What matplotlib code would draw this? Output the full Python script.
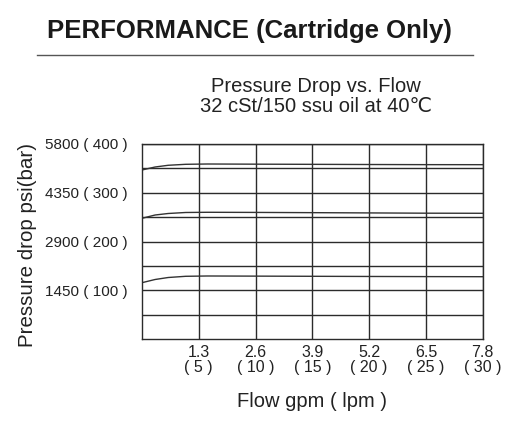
import numpy as np
import matplotlib.pyplot as plt
from matplotlib.lines import Line2D

plt.rcParams['font.family'] = ['Liberation Sans', 'DejaVu Sans']

# Flow (gpm) sample points along each curve
flow = [0, 0.3, 0.6, 1.0, 1.5, 2.6, 3.9, 5.2, 6.5, 7.8]

# Pressure drop (psi)
curve_high = [5027, 5116, 5167, 5196, 5205, 5200, 5195, 5190, 5186, 5185]
curve_mid = [3590, 3688, 3733, 3763, 3769, 3765, 3758, 3750, 3742, 3739]
curve_low = [1675, 1770, 1829, 1865, 1874, 1870, 1865, 1860, 1856, 1853]

# Axis ticks and labels
x_ticks = [1.3, 2.6, 3.9, 5.2, 6.5, 7.8]
x_labels = ['1.3\n( 5 )', '2.6\n( 10 )', '3.9\n( 15 )', '5.2\n( 20 )', '6.5\n( 25 )', '7.8\n( 30 )']
y_ticks = [1450, 2900, 4350, 5800]
y_labels = ['1450 ( 100 )', '2900 ( 200 )', '4350 ( 300 )', '5800 ( 400 )']
y_grid = [725, 1450, 2175, 2900, 3625, 4350, 5075, 5800]

fig = plt.figure(figsize=(5.12, 4.3), dpi=100)
ax = fig.add_axes([142 / 512, 91 / 430, 340.7 / 512, 195 / 430])

ax.set_xlim(0, 7.8)
ax.set_ylim(0, 5800)

line_col = '#2b2b2b'
for y in y_grid:
    ax.axhline(y, color=line_col, lw=1.0, zorder=1)
for x in x_ticks:
    ax.axvline(x, color=line_col, lw=1.0, zorder=1)

for c in (curve_high, curve_mid, curve_low):
    ax.plot(flow, c, color='#333333', lw=1.0, zorder=2)

for s in ax.spines.values():
    s.set_color(line_col)
    s.set_linewidth(1.0)

ax.set_xticks(x_ticks)
ax.set_xticklabels(x_labels, fontsize=11.5, linespacing=1.05)
ax.set_yticks(y_ticks)
ax.set_yticklabels(y_labels, fontsize=11)
ax.tick_params(length=0, colors='#222222')
ax.tick_params(axis='y', pad=10)
ax.tick_params(axis='x', pad=4)

ax.set_xlabel('Flow gpm ( lpm )', fontsize=14.5, color='#222222', labelpad=12)
fig.text(28 / 512, 1 - 245 / 430, 'Pressure drop psi(bar)', rotation=90,
         fontsize=14.8, color='#222222', ha='center', va='center')

fig.text(249 / 512, 1 - 31 / 430, 'PERFORMANCE (Cartridge Only)', fontsize=18.5,
         fontweight='bold', color='#1a1a1a', ha='center', va='center')
fig.add_artist(Line2D([37 / 512, 473 / 512], [1 - 55 / 430, 1 - 55 / 430],
                      color='#555555', lw=1.0))

fig.text(316 / 512, 1 - 87 / 430, 'Pressure Drop vs. Flow', fontsize=14.5,
         color='#222222', ha='center', va='center')
fig.text(316 / 512, 1 - 107 / 430, '32 cSt/150 ssu oil at 40\u2103', fontsize=14.5,
         color='#222222', ha='center', va='center')

fig.savefig('out.png', dpi=100)
